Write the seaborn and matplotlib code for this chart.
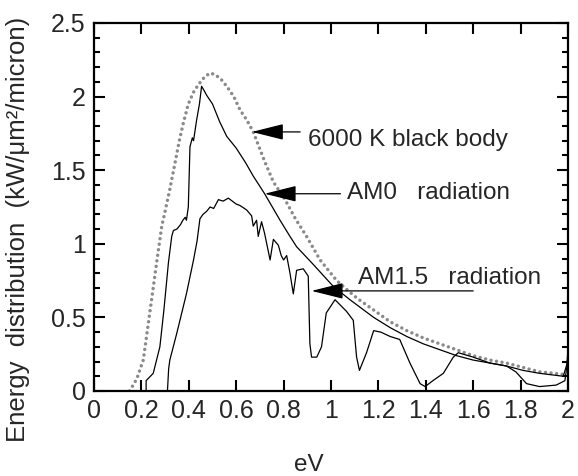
import matplotlib
matplotlib.use("Agg")
import matplotlib.pyplot as plt
import seaborn as sns
from matplotlib.ticker import MultipleLocator, FuncFormatter

# values
bb_x = [0.15, 0.18, 0.208, 0.243, 0.265, 0.286, 0.30, 0.32, 0.342, 0.36, 0.377,
        0.398, 0.42, 0.44, 0.465, 0.489, 0.51, 0.535, 0.56, 0.59, 0.616, 0.645,
        0.672, 0.72, 0.757, 0.806, 0.85, 0.897, 0.954, 1.024, 1.066, 1.11, 1.18,
        1.25, 1.32, 1.39, 1.46, 1.53, 1.60, 1.67, 1.74, 1.81, 1.88, 1.94, 1.995]
bb_y = [0.0, 0.08, 0.21, 0.62, 0.88, 1.12, 1.22, 1.37, 1.55, 1.70, 1.82,
        1.95, 2.03, 2.08, 2.13, 2.16, 2.15, 2.12, 2.07, 2.00, 1.91, 1.84,
        1.76, 1.56, 1.42, 1.30, 1.17, 1.05, 0.89, 0.75, 0.69, 0.63, 0.55,
        0.47, 0.41, 0.36, 0.32, 0.28, 0.24, 0.21, 0.19, 0.16, 0.13, 0.12, 0.11]

am0_x = [0.22, 0.22, 0.25, 0.278, 0.295, 0.314, 0.328, 0.335, 0.35, 0.365,
         0.375, 0.385, 0.39, 0.398, 0.405, 0.415, 0.42, 0.433, 0.445, 0.454,
         0.465, 0.475, 0.50, 0.53, 0.56, 0.60, 0.64, 0.672, 0.72, 0.785,
         0.827, 0.855, 0.925, 1.01, 1.08, 1.18, 1.25, 1.32, 1.39, 1.46,
         1.53, 1.60, 1.67, 1.74, 1.81, 1.88, 1.93, 1.98, 1.995, 2.0]
am0_y = [0.0, 0.07, 0.12, 0.30, 0.55, 0.87, 1.05, 1.09, 1.10, 1.13,
         1.16, 1.18, 1.16, 1.25, 1.66, 1.72, 1.70, 1.84, 1.95, 2.07,
         2.04, 2.01, 1.95, 1.83, 1.73, 1.65, 1.55, 1.46, 1.34, 1.16,
         1.05, 0.98, 0.86, 0.71, 0.62, 0.50, 0.43, 0.37, 0.32, 0.28,
         0.24, 0.21, 0.19, 0.17, 0.14, 0.12, 0.11, 0.10, 0.18, 0.28]

am15_x = [0.31, 0.315, 0.32, 0.349, 0.39, 0.42, 0.435, 0.447, 0.46, 0.475,
          0.49, 0.505, 0.525, 0.545, 0.567, 0.60, 0.616, 0.644, 0.665, 0.672,
          0.686, 0.693, 0.707, 0.72, 0.743, 0.757, 0.778, 0.79, 0.80, 0.813,
          0.827, 0.841, 0.855, 0.883, 0.904, 0.911, 0.918, 0.94, 0.96, 0.98,
          1.017, 1.066, 1.094, 1.108, 1.12, 1.15, 1.18, 1.21, 1.25, 1.29,
          1.333, 1.376, 1.397, 1.43, 1.474, 1.516, 1.537, 1.60, 1.67, 1.74,
          1.78, 1.825, 1.88, 1.95, 1.987, 2.0]
am15_y = [0.0, 0.15, 0.21, 0.39, 0.66, 0.89, 1.02, 1.17, 1.20, 1.22,
          1.25, 1.24, 1.30, 1.29, 1.31, 1.27, 1.26, 1.23, 1.19, 1.12,
          1.16, 1.05, 1.15, 1.07, 0.89, 1.03, 0.99, 0.92, 0.89, 0.92,
          0.80, 0.66, 0.82, 0.83, 0.78, 0.32, 0.23, 0.23, 0.30, 0.53,
          0.62, 0.54, 0.48, 0.23, 0.14, 0.26, 0.41, 0.40, 0.37, 0.35,
          0.19, 0.05, 0.03, 0.07, 0.12, 0.23, 0.26, 0.23, 0.19, 0.17,
          0.13, 0.05, 0.03, 0.04, 0.07, 0.23]

# label text, position of text start, arrow tip and tail (data units)
labels = ["6000 K black body", "AM0   radiation", "AM1.5   radiation"]
label_xy = [(0.903, 1.705), (1.066, 1.345), (1.114, 0.77)]
arrow_tip = [(0.666, 1.76), (0.72, 1.34), (0.918, 0.68)]
arrow_tail = [(0.87, 1.76), (1.04, 1.34), (1.60, 0.68)]

sns.set_style("ticks")
plt.rcParams["font.family"] = ["Liberation Sans", "DejaVu Sans"]

fig = plt.figure(figsize=(5.78, 4.76), dpi=100)
ax = fig.add_axes([0.1626, 0.1786, 0.8201, 0.7731])

sns.lineplot(x=bb_x, y=bb_y, ax=ax, sort=False, estimator=None,
             color="#8a8a8a", linewidth=2.5, linestyle=(0, (0.01, 1.6)),
             dash_capstyle="round")
sns.lineplot(x=am0_x, y=am0_y, ax=ax, sort=False, estimator=None,
             color="black", linewidth=0.9)
sns.lineplot(x=am15_x, y=am15_y, ax=ax, sort=False, estimator=None,
             color="black", linewidth=0.9)

for txt, pos, tip, tail in zip(labels, label_xy, arrow_tip, arrow_tail):
    ax.annotate("", xy=tip, xytext=tail,
                arrowprops=dict(arrowstyle="-|>,head_length=2.0,head_width=0.5",
                                color="black", lw=0.9, shrinkA=0, shrinkB=0))
    ax.text(pos[0], pos[1], txt, fontsize=17.5, ha="left", va="center")

ax.set_xlim(0, 2)
ax.set_ylim(0, 2.5)
ax.xaxis.set_major_locator(MultipleLocator(0.2))
ax.yaxis.set_major_locator(MultipleLocator(0.5))
ax.yaxis.set_minor_locator(MultipleLocator(0.1))
fmt = FuncFormatter(lambda v, p: "%g" % round(v, 2))
ax.xaxis.set_major_formatter(fmt)
ax.yaxis.set_major_formatter(fmt)
ax.tick_params(which="both", direction="in", top=True, right=True,
               labelsize=18, width=1.5, color="black")
ax.tick_params(which="major", length=8, pad=6)
ax.tick_params(which="minor", length=4)
for s in ax.spines.values():
    s.set_linewidth(1.6)
    s.set_color("black")

ax.set_xlabel("eV", fontsize=17.5)
ax.xaxis.set_label_coords(0.454, -0.17)
ax.set_ylabel("Energy  distribution  (kW/\u03bcm\u00b2/micron)", fontsize=18.5)
ax.yaxis.set_label_coords(-0.135, 0.44)

fig.savefig("out.png", dpi=100)
